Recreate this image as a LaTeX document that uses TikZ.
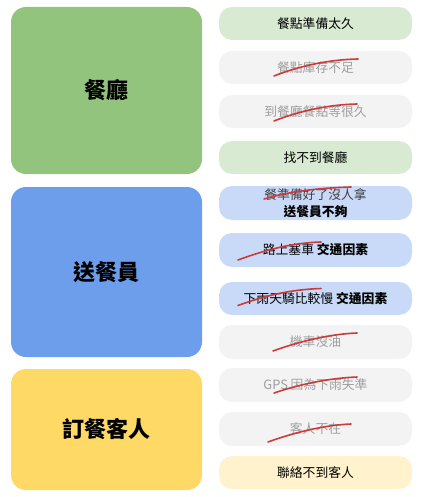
\documentclass[tikz,border=0pt]{standalone}
\usepackage{fontspec}
\setmainfont{Noto Sans CJK TC}
\definecolor{restGreen}{HTML}{93C47D}
\definecolor{riderBlue}{HTML}{6D9EEB}
\definecolor{guestYellow}{HTML}{FFD966}
\definecolor{pillGreen}{HTML}{D9EAD3}
\definecolor{pillBlue}{HTML}{C9DAF8}
\definecolor{pillYellow}{HTML}{FFF2CC}
\definecolor{pillGray}{HTML}{F3F3F3}
\definecolor{fadeText}{HTML}{9E9E9E}
\definecolor{penRed}{HTML}{CC3B3B}
\begin{document}
\begin{tikzpicture}[x=1pt, y=-1pt,
    group/.style={rounded corners=15pt, minimum width=191pt, inner sep=0pt,
      font=\bfseries\fontsize{22}{26}\selectfont},
    pill/.style={rounded corners=13pt, minimum width=193pt, minimum height=33pt,
      inner sep=0pt, font=\fontsize{12.8}{17}\selectfont, align=center},
    faded/.style={pill, fill=pillGray, text=fadeText},
    strike/.style={draw=penRed, line width=1.6pt, line cap=round}]
  \useasboundingbox (0,0) rectangle (420,497);

  % left column
  \node[group, fill=restGreen, minimum height=167pt] (rest) at (106.5,90.5) {餐廳};
  \node[group, fill=riderBlue, minimum height=170pt] (rider) at (106.5,272) {送餐員};
  \node[group, fill=guestYellow, minimum height=121pt] (guest) at (106.5,429.5) {訂餐客人};

  % right column
  \node[pill, fill=pillGreen] (p1) at (315.5,23.5) {餐點準備太久};
  \node[faded] (p2) at (315.5,67.5) {餐點庫存不足};
  \node[faded] (p3) at (315.5,111.5) {到餐廳餐點等很久};
  \node[pill, fill=pillGreen] (p4) at (315.5,157.5) {找不到餐廳};
  \node[pill, fill=pillBlue, minimum height=34pt] (p5) at (315.5,203)
    {{\color{black!75}餐準備好了沒人拿}\\\textbf{送餐員不夠}};
  \node[pill, fill=pillBlue, minimum height=34pt] (p6) at (315.5,250)
    {路上塞車 \textbf{交通因素}};
  \node[pill, fill=pillBlue] (p7) at (315.5,298.5) {下雨天騎比較慢 \textbf{交通因素}};
  \node[faded, minimum height=34pt] (p8) at (315.5,342) {機車沒油};
  \node[faded, minimum height=34pt] (p9) at (315.5,385) {GPS 因為下雨失準};
  \node[faded, minimum height=34pt] (p10) at (315.5,429) {客人不在};
  \node[pill, fill=pillYellow] (p11) at (315.5,472.5) {聯絡不到客人};

  % crossed-out items
  \draw[strike, shift={(p2.center)}] (-41.5,8.5) .. controls (-15,-2) and (15,-8) .. (42.5,-8.5);
  \draw[strike, shift={(p3.center)}] (-41.5,9.5) .. controls (-15,-1) and (15,-7) .. (41.5,-7.5);
  \draw[strike, shift={(p5.center)}] (-51.5,-4) .. controls (-25,-12) and (5,-15) .. (35.5,-16);
  \draw[strike, shift={(p6.center)}] (-77.5,10) .. controls (-50,0) and (-25,-7) .. (5.5,-8);
  \draw[strike, shift={(p7.center)}] (-77.5,7) .. controls (-50,-3) and (-25,-9) .. (5.5,-10);
  \draw[strike, shift={(p8.center)}] (-42.5,9) .. controls (-15,-1) and (15,-8) .. (41.5,-9);
  \draw[strike, shift={(p9.center)}] (-41.5,8) .. controls (-15,-1) and (15,-7) .. (41.5,-8);
  \draw[strike, shift={(p10.center)}] (-47.5,13) .. controls (-20,3) and (10,-4) .. (35.5,-5);
\end{tikzpicture}
\end{document}
